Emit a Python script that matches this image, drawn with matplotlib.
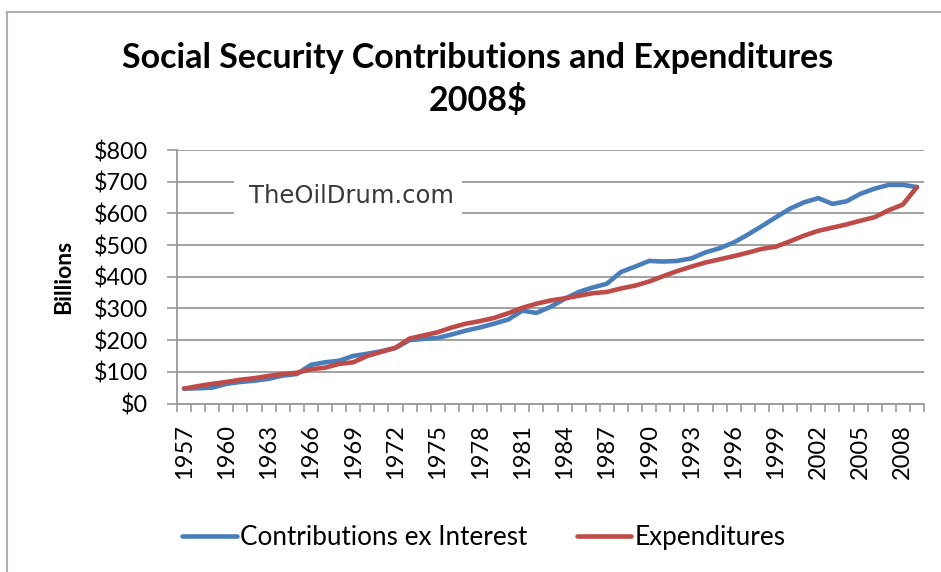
import numpy as np
import matplotlib
matplotlib.use("Agg")
import matplotlib.pyplot as plt
from matplotlib.lines import Line2D
from matplotlib.patches import Rectangle

# ---------------------------- data (billions, 2008 dollars)

years = list(range(1957, 2010))

contributions = [
    47, 48, 50, 62, 68, 72, 78, 88, 93, 122,
    130, 135, 150, 157, 165, 175, 200, 204, 207, 218,
    230, 240, 252, 265, 293, 286, 305, 330, 352, 366,
    378, 415, 432, 450, 448, 450, 458, 477, 490, 508,
    533, 560, 588, 615, 635, 648, 630, 638, 662, 678,
    690, 690, 683,
]

expenditures = [
    47, 55, 62, 68, 75, 80, 87, 93, 97, 108,
    113, 125, 130, 150, 163, 176, 205, 215, 225, 240,
    252, 260, 270, 285, 302, 315, 325, 332, 340, 348,
    352, 363, 372, 385, 402, 418, 432, 445, 455, 465,
    476, 488, 495, 512, 530, 545, 555, 565, 577, 588,
    610, 628, 683,
]

y_ticks = np.arange(0, 801, 100)

# ----------------------------

FONT = ["Lato", "DejaVu Sans"]
BLUE = "#4A7EBB"
RED = "#BE4B48"
GRID = "#9a9a9a"

plt.rcParams["font.family"] = FONT

fig = plt.figure(figsize=(9.41, 5.72), dpi=100)
ax = fig.add_axes([177 / 941, 1 - 403.5 / 572, 747 / 941, 253.5 / 572])

x = np.arange(len(years))
ax.plot(x, contributions, color=BLUE, lw=3.3, solid_capstyle="round",
        solid_joinstyle="round", label="Contributions ex Interest", zorder=4)
ax.plot(x, expenditures, color=RED, lw=3.3, solid_capstyle="round",
        solid_joinstyle="round", label="Expenditures", zorder=5)

ax.set_xlim(-0.5, len(years) - 0.5)
ax.set_ylim(0, 800)

# y axis: dollar labels, horizontal grid
ax.set_yticks(y_ticks)
ax.set_yticklabels([f"${v}" for v in y_ticks])
ax.yaxis.grid(True, color=GRID, lw=1.3)
ax.set_axisbelow(True)
ax.tick_params(axis="y", direction="out", length=7, width=1.2, color=GRID,
               labelsize=16.8, pad=14)
ax.set_ylabel("Billions", fontsize=16.5, fontweight="bold", labelpad=14)

# x axis: ticks between categories, label every third year
ax.set_xticks(np.arange(-0.5, len(years)), minor=True)
ax.set_xticks(x[::3])
ax.set_xticklabels([str(y) for y in years[::3]], rotation=90)
ax.tick_params(axis="x", which="minor", direction="out", length=6,
               width=1.2, color=GRID)
ax.tick_params(axis="x", which="major", length=0, labelsize=17, pad=15)

for s in ("top", "right"):
    ax.spines[s].set_visible(False)
for s in ("left", "bottom"):
    ax.spines[s].set_color(GRID)
    ax.spines[s].set_linewidth(1.3)

# site watermark on a white box over the grid
ax.add_patch(Rectangle((0.0763, 0.72), 0.305, 0.18, transform=ax.transAxes,
                       fc="white", ec="none", zorder=2))
ax.text(0.233, 0.8185, "TheOilDrum.com", transform=ax.transAxes,
        fontsize=17.5, family="DejaVu Sans", color="#3a3a3a",
        ha="center", va="center", zorder=3)

fig.text(0.508, 0.898, "Social Security Contributions and Expenditures",
         ha="center", va="center", fontsize=24.5, fontweight="bold")
fig.text(0.508, 0.825, "2008$", ha="center", va="center",
         fontsize=24.5, fontweight="bold")

fig.legend(loc="center", bbox_to_anchor=(0.514, 0.06), ncol=2, frameon=False,
           fontsize=18.8, handlelength=2.1, handletextpad=0.12,
           columnspacing=1.9)

# chart frame (left and top edges)
fig.add_artist(Line2D([7 / 941, 7 / 941], [0, 1 - 12 / 572],
                      color="#b0b0b0", lw=1.5, transform=fig.transFigure))
fig.add_artist(Line2D([7 / 941, 1], [1 - 12 / 572, 1 - 12 / 572],
                      color="#b0b0b0", lw=1.5, transform=fig.transFigure))

fig.savefig("out.png", dpi=100, facecolor="white")
